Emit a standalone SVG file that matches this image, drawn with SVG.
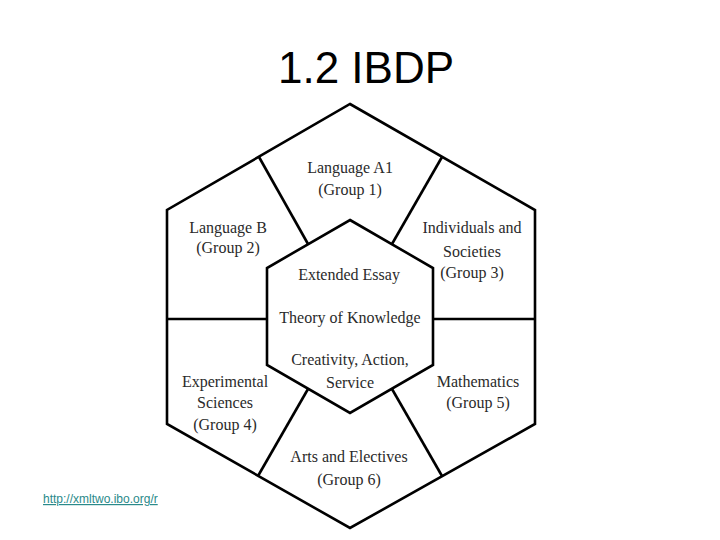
<svg xmlns="http://www.w3.org/2000/svg" width="720" height="540" viewBox="0 0 720 540">
<style>
.h{fill:none;stroke:#000;stroke-width:2.6;stroke-linejoin:miter}
.c line{stroke:#000;stroke-width:2.6}
.t{font-family:"Liberation Serif","Times New Roman",serif;font-size:16px;fill:#2a2a2a;text-anchor:middle}
</style>
<defs>
<clipPath id="lc"><rect x="0" y="480" width="158" height="40"/></clipPath>
</defs>
<rect width="720" height="540" fill="#fff"/>
<text x="366" y="83" font-family="Liberation Sans, Arial, sans-serif" font-size="44" text-anchor="middle" fill="#000">1.2 IBDP</text>
<g id="link" clip-path="url(#lc)">
<text x="43" y="503" font-family="Liberation Sans, Arial, sans-serif" font-size="12" fill="#2a8a8a" text-decoration="underline">http://xmltwo.ibo.org/r</text>
</g>
<g id="outer"><polygon class="h" points="350,104 535,210 535,424 350,528 167,424 167,210"/></g>
<g id="core"><polygon class="h" points="350,220 433,268 433,365 350,413 267,365 267,268"/></g>
<g class="c" id="connectors">
<line x1="259" y1="157" x2="308" y2="244"/>
<line x1="442" y1="157" x2="392" y2="244"/>
<line x1="167" y1="319" x2="267" y2="319"/>
<line x1="433" y1="319" x2="535" y2="319"/>
<line x1="308" y1="389" x2="258" y2="476"/>
<line x1="392" y1="389" x2="442" y2="476"/>
</g>
<g id="g1"><text class="t" x="350" y="173">Language A1</text><text class="t" x="350" y="195">(Group 1)</text></g>
<g id="g2"><text class="t" x="228" y="233">Language B</text><text class="t" x="228" y="253">(Group 2)</text></g>
<g id="g3"><text class="t" x="472" y="233">Individuals and</text><text class="t" x="472" y="257">Societies</text><text class="t" x="472" y="278">(Group 3)</text></g>
<g id="ee"><text class="t" x="349" y="280">Extended Essay</text></g>
<g id="tok"><text class="t" x="350" y="323">Theory of Knowledge</text></g>
<g id="cas"><text class="t" x="350" y="365">Creativity, Action,</text><text class="t" x="350" y="388">Service</text></g>
<g id="g4"><text class="t" x="225" y="387">Experimental</text><text class="t" x="225" y="408">Sciences</text><text class="t" x="225" y="430">(Group 4)</text></g>
<g id="g5"><text class="t" x="478" y="387">Mathematics</text><text class="t" x="478" y="408">(Group 5)</text></g>
<g id="g6"><text class="t" x="349" y="462">Arts and Electives</text><text class="t" x="349" y="485">(Group 6)</text></g>
</svg>
